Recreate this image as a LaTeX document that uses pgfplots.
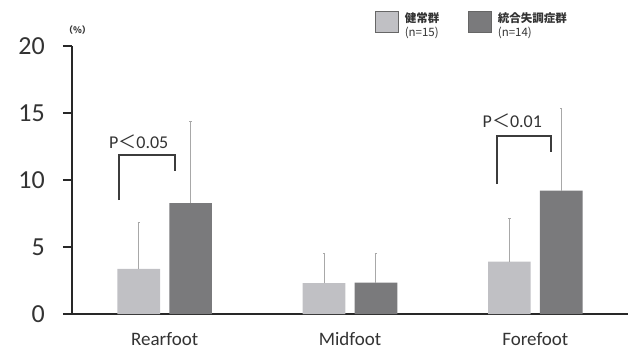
\documentclass[border=0pt]{standalone}
\usepackage{pgfplots}
\pgfplotsset{compat=1.18}
\usepackage{fontspec}
\setmainfont{Carlito}
\newfontfamily\cjk{Noto Sans CJK JP}

\definecolor{healthy}{RGB}{192,192,196}
\definecolor{schizo}{RGB}{122,122,124}
\definecolor{errgray}{RGB}{168,168,168}
\definecolor{axisgray}{RGB}{40,40,40}
\definecolor{bracket}{RGB}{60,60,60}

\begin{document}
\begin{tikzpicture}
\path[use as bounding box] (-72pt,-40pt) rectangle (561pt,314pt);
\begin{axis}[
  at={(0pt,0pt)}, anchor=south west,
  width=556pt, height=268pt, scale only axis,
  clip=false,
  xmin=-0.5, xmax=2.5, ymin=0, ymax=20,
  axis lines*=left,
  axis line style={line width=1.7pt, color=axisgray},
  ytick={0,5,10,15,20},
  xtick={0,1,2},
  xticklabels={Rearfoot,Midfoot,Forefoot},
  xtick style={draw=none},
  ytick style={line width=1.7pt, color=axisgray},
  tick align=outside,
  major tick length=9pt,
  /pgf/number format/assume math mode=true,
  yticklabel style={font=\fontsize{26}{26}\selectfont, color=black!80, inner sep=0pt, xshift=-18pt},
  xticklabel style={font=\fontsize{19}{19}\selectfont, color=black!80, yshift=-6pt},
  ybar,
  bar width=0.23,
  legend columns=2,
  legend cell align=left,
  legend style={draw=none, fill=none, inner sep=0pt,
    at={(axis description cs:0.545,1.09)}, anchor=west,
    nodes={inner sep=0pt},
    font=\cjk\fontsize{11.5}{13}\selectfont, text=black!80,
    /tikz/every odd column/.append style={column sep=6pt},
    /tikz/every even column/.append style={column sep=29pt}},
  legend image code/.code={\draw[#1, draw=black!60, line width=0.6pt] (0pt,-10.5pt) rectangle (23pt,10.5pt);},
  error bars/y dir=plus,
  error bars/y explicit,
  error bars/error bar style={line width=1pt, color=errgray},
  error bars/error mark options={rotate=90, mark size=1.2pt, color=errgray, line width=1pt},
]
% healthy controls
\addplot[fill=healthy, draw=none, bar shift=-0.14] coordinates {
  (0,3.36) +- (0,3.44)
  (1,2.30) +- (0,2.20)
  (2,3.90) +- (0,3.25)
};
\addlegendentry{\begin{tabular}{@{}l@{}}{\bfseries 健常群}\\(n=15)\end{tabular}}
% schizophrenia group
\addplot[fill=schizo, draw=none, bar shift=0.14] coordinates {
  (0,8.28) +- (0,6.12)
  (1,2.35) +- (0,2.15)
  (2,9.20) +- (0,6.10)
};
\addlegendentry{\begin{tabular}{@{}l@{}}{\bfseries 統合失調症群}\\(n=14)\end{tabular}}

% significance brackets
\draw[line width=2.2pt, color=bracket] (axis cs:-0.246,8.5) |- (axis cs:0.057,11.87) -- (axis cs:0.057,10.67);
\draw[line width=2.2pt, color=bracket] (axis cs:1.795,9.7) |- (axis cs:2.086,13.28) -- (axis cs:2.086,12.1);
\node[font=\fontsize{18}{18}\selectfont, color=black!80] at (axis cs:-0.14,12.85) {P{\cjk ＜}0.05};
\node[font=\fontsize{18}{18}\selectfont, color=black!80] at (axis cs:1.876,14.4) {P{\cjk ＜}0.01};

% unit label
\node[font=\cjk\bfseries\fontsize{9}{9}\selectfont, color=black!80] at (axis description cs:0.01,1.06) {（\%）};
\end{axis}
\end{tikzpicture}
\end{document}
